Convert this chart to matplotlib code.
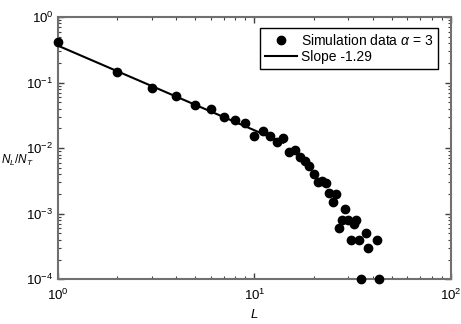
import matplotlib
matplotlib.use("Agg")
import matplotlib.pyplot as plt
import numpy as np

plt.rcParams['font.family'] = ['Liberation Sans', 'DejaVu Sans']
plt.rcParams['mathtext.fontset'] = 'custom'
plt.rcParams['mathtext.it'] = 'Liberation Sans:italic'
plt.rcParams['mathtext.rm'] = 'Liberation Sans'

# simulation data
L = [1, 2, 3, 4, 5, 6, 7, 8, 9, 10, 11, 12, 13, 14, 15, 16, 17, 18, 19, 20,
     21, 22, 23, 24, 25, 26, 27, 28, 29, 30, 31, 32, 33, 34, 35, 37, 38, 42, 43]
N = [0.41, 0.147, 0.084, 0.062, 0.045, 0.039, 0.0296, 0.027, 0.024, 0.0155,
     0.0185, 0.0155, 0.0123, 0.0145, 0.0087, 0.0094, 0.0074, 0.0064, 0.0054, 0.0040,
     0.0030, 0.0032, 0.0029, 0.0021, 0.0015, 0.00198, 0.0006, 0.0008, 0.0012, 0.0008,
     0.0004, 0.0007, 0.0008, 0.0004, 0.0001, 0.0005, 0.0003, 0.0004, 0.0001]

# fitted power law
slope = -1.29
amp = 0.365
fit_L = np.array([1, 14])
fit_N = amp * fit_L ** slope

fig = plt.figure(figsize=(4.61, 3.24), dpi=100)
ax = fig.add_axes([0.126, 0.138, 0.852, 0.8095])

ax.plot(L, N, 'o', color='black', ms=6, clip_on=False, zorder=3,
        label=r'Simulation data $\alpha$ = 3')
ax.plot(fit_L, fit_N, '-', color='black', lw=1.5, label='Slope -1.29')

ax.set_xscale('log')
ax.set_yscale('log')
ax.set_xlim(1, 100)
ax.set_ylim(1e-4, 1)

for s in ax.spines.values():
    s.set_color('#707070')
    s.set_linewidth(1.5)
ax.tick_params(which='both', direction='in', top=True, right=True,
               color='#404040', labelsize=9.5)
ax.tick_params(which='major', length=4, width=1)
ax.tick_params(which='minor', length=2.5, width=0.8)
ax.xaxis.set_minor_locator(matplotlib.ticker.LogLocator(base=10, subs=np.arange(2, 10)))
ax.yaxis.set_minor_locator(matplotlib.ticker.LogLocator(base=10, subs=np.arange(2, 10)))
ax.tick_params(axis='x', pad=6)

ax.set_xlabel(r'$L$', fontsize=9.5, labelpad=4)
ax.set_ylabel(r'$N_L/N_T$', fontsize=8.5, rotation=0, labelpad=0, ha='left')
ax.yaxis.set_label_coords(-0.146, 0.425)

leg = ax.legend(loc='upper right', fontsize=10, frameon=True, fancybox=False,
                edgecolor='black', framealpha=1, borderpad=0.35,
                handlelength=2.3, handletextpad=0.3, labelspacing=0.15,
                bbox_to_anchor=(0.985, 0.985))
leg.get_frame().set_linewidth(1.0)

fig.savefig('out.png', dpi=100)
